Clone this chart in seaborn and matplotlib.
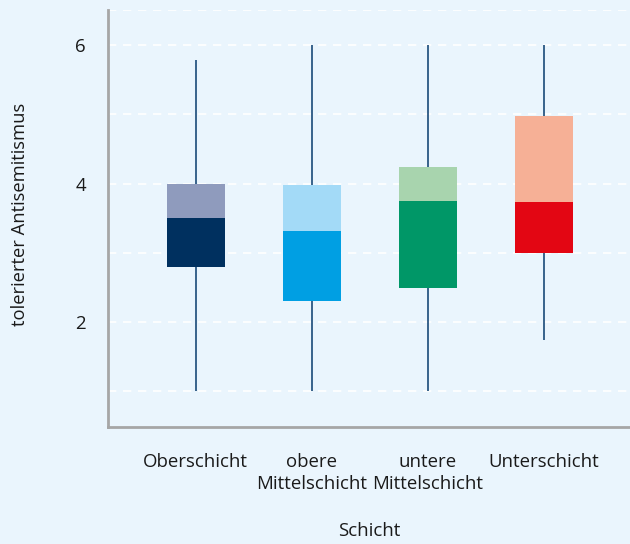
import numpy as np
import pandas as pd
import matplotlib
matplotlib.use("Agg")
import matplotlib.pyplot as plt
import seaborn as sns

# Fünf-Punkte-Zusammenfassung je Schicht
schichten = ["Oberschicht", "obere\nMittelschicht", "untere\nMittelschicht", "Unterschicht"]
minimum = [1.0, 1.0, 1.0, 1.74]
q1 = [2.80, 2.31, 2.50, 3.00]
median = [3.50, 3.32, 3.75, 3.74]
q3 = [4.00, 3.98, 4.24, 4.98]
maximum = [5.78, 6.0, 6.0, 6.0]

dunkel = ["#00305f", "#009fe3", "#009767", "#e30613"]
hell = ["#8f9bbd", "#a3daf7", "#a8d4ae", "#f6b096"]
bg = "#eaf5fd"

# je Gruppe die fünf Kennwerte als Datenpunkte -> Quartile exakt
rows = []
for i, s in enumerate(schichten):
    for v in (minimum[i], q1[i], median[i], q3[i], maximum[i]):
        rows.append({"Schicht": s, "Wert": v})
df = pd.DataFrame(rows)

sns.set_style("white")
plt.rcParams["font.family"] = ["Open Sans", "DejaVu Sans"]

fig = plt.figure(figsize=(6.3, 5.44), dpi=100, facecolor=bg)
ax = fig.add_axes([0.1714, 0.2156, 0.8286, 0.7651])
ax.set_facecolor(bg)

for y in [1, 2, 3, 4, 5, 6, 6.5]:
    ax.axhline(y, color="white", lw=1.2, ls=(0, (5, 4)), zorder=0)

sns.boxplot(data=df, x="Schicht", y="Wert", hue="Schicht", palette=dunkel,
            saturation=1, whis=(0, 100), width=0.5, showcaps=False,
            showfliers=False, boxprops=dict(linewidth=0),
            whiskerprops=dict(color="#2a5783", linewidth=1.3),
            medianprops=dict(linewidth=0), legend=False, ax=ax, zorder=2)

# obere Hälfte der Box (Median bis Q3) heller
ax.bar(range(len(schichten)), np.array(q3) - np.array(median), bottom=median,
       width=0.5, color=hell, linewidth=0, zorder=3)

ax.set_xlim(-0.756, 3.744)
ax.set_ylim(0.49, 6.5)
ax.set_yticks([2, 4, 6])
ax.set_yticklabels(["2", "4", "6"])

for side in ["top", "right"]:
    ax.spines[side].set_visible(False)
for side in ["left", "bottom"]:
    ax.spines[side].set_color("#a6a6a6")
    ax.spines[side].set_linewidth(2)

ax.tick_params(axis="both", direction="inout", length=8, width=1.2,
               color="#a6a6a6", labelsize=13.4, labelcolor="#1a1a1a")
ax.tick_params(axis="x", pad=15)
ax.tick_params(axis="y", pad=12)
for lbl in ax.get_xticklabels():
    lbl.set_linespacing(1.3)

ax.set_xlabel("Schicht", fontsize=13.4, color="#1a1a1a", labelpad=21)
ax.set_ylabel("tolerierter Antisemitismus", fontsize=13.2, color="#1a1a1a")
ax.yaxis.set_label_coords(-0.152, 0.51)

fig.savefig("out.png", dpi=100, facecolor=bg)
